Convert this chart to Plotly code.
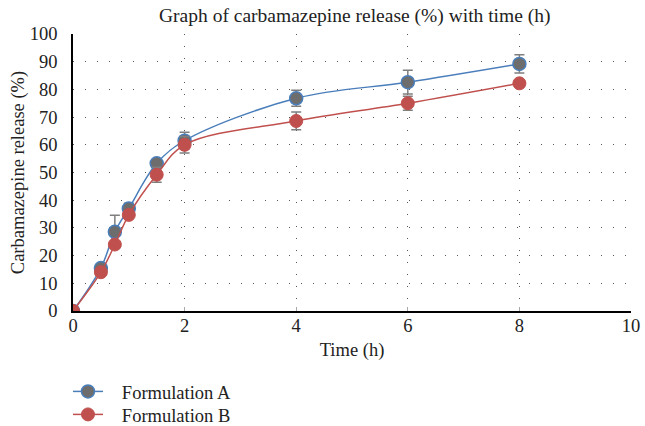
import plotly.graph_objects as go

time_h = [0, 0.5, 0.75, 1, 1.5, 2, 4, 6, 8]
release_a = [0, 15.5, 28.6, 37.0, 53.3, 61.5, 76.8, 82.6, 89.2]
err_a = [0, 1.0, 6.0, 1.9, 1.0, 3.0, 2.9, 4.3, 3.3]
release_b = [0, 14.0, 24.0, 34.7, 49.2, 60.0, 68.6, 75.0, 82.2]
err_b = [0, 0.8, 1.0, 1.0, 2.7, 3.0, 3.2, 2.5, 0.5]

x_ticks = [0, 2, 4, 6, 8, 10]
y_ticks = [0, 10, 20, 30, 40, 50, 60, 70, 80, 90, 100]

FONT = "Liberation Serif"
FS = 18.5
GAP = "\u00a0\u00a0\u00a0"

fig = go.Figure()
fig.add_trace(go.Scatter(
    x=time_h, y=release_a, name=GAP + "Formulation A", mode="lines+markers",
    line=dict(color="#4a7ebb", width=1.5, shape="spline", smoothing=1),
    marker=dict(size=13, color="#6d6d6d", line=dict(color="#4a7ebb", width=1.5)),
    error_y=dict(type="data", array=err_a, color="#7f7f7f", thickness=1.5, width=5),
    legend="legend",
))
fig.add_trace(go.Scatter(
    x=time_h, y=release_b, name=GAP + "Formulation B", mode="lines+markers",
    line=dict(color="#c0504d", width=1.5, shape="spline", smoothing=1),
    marker=dict(size=13, color="#c0504d", line=dict(color="#c0504d", width=1)),
    error_y=dict(type="data", array=err_b, color="#7f7f7f", thickness=1.5, width=5),
    legend="legend2",
))

leg_common = dict(xanchor="left", yanchor="middle",
                  font=dict(family=FONT, size=FS, color="#222222"),
                  bgcolor="rgba(0,0,0,0)")

fig.update_layout(
    width=645, height=426,
    margin=dict(l=73, r=14, t=34, b=115, autoexpand=False),
    paper_bgcolor="white", plot_bgcolor="white",
    font=dict(family=FONT, size=FS, color="#222222"),
    title=dict(text="Graph of carbamazepine release (%) with time (h)",
               x=0.55, xanchor="center", y=0.965, yanchor="middle",
               font=dict(family=FONT, size=19.5, color="#222222")),
    legend=dict(x=-0.009, y=-0.292, **leg_common),
    legend2=dict(x=-0.009, y=-0.375, **leg_common),
    showlegend=True,
)
fig.update_xaxes(
    range=[0, 10], tickvals=x_ticks, ticktext=[str(v) for v in x_ticks],
    automargin=False,
    showline=True, linecolor="black", linewidth=1.5,
    showgrid=True, gridcolor="#555555", gridwidth=1.2, griddash="1px,11px",
    ticks="inside", ticklen=4, tickcolor="#aaaaaa", ticklabelstandoff=-3,
    zeroline=False,
    title=dict(text="Time (h)", font=dict(family=FONT, size=FS), standoff=8),
)
fig.update_yaxes(
    range=[0, 100], tickvals=y_ticks, automargin=False,
    showline=True, linecolor="black", linewidth=1.5,
    showgrid=True, gridcolor="#555555", gridwidth=1.2, griddash="1px,11px",
    ticks="outside", ticklen=7, tickcolor="rgba(0,0,0,0)", ticklabelstandoff=3,
    zeroline=False,
    title=dict(text="Carbamazepine release (%)", font=dict(family=FONT, size=FS), standoff=0),
)

fig.write_html("out.html", config={"displayModeBar": False},
               post_script="document.body.style.margin='0';")
